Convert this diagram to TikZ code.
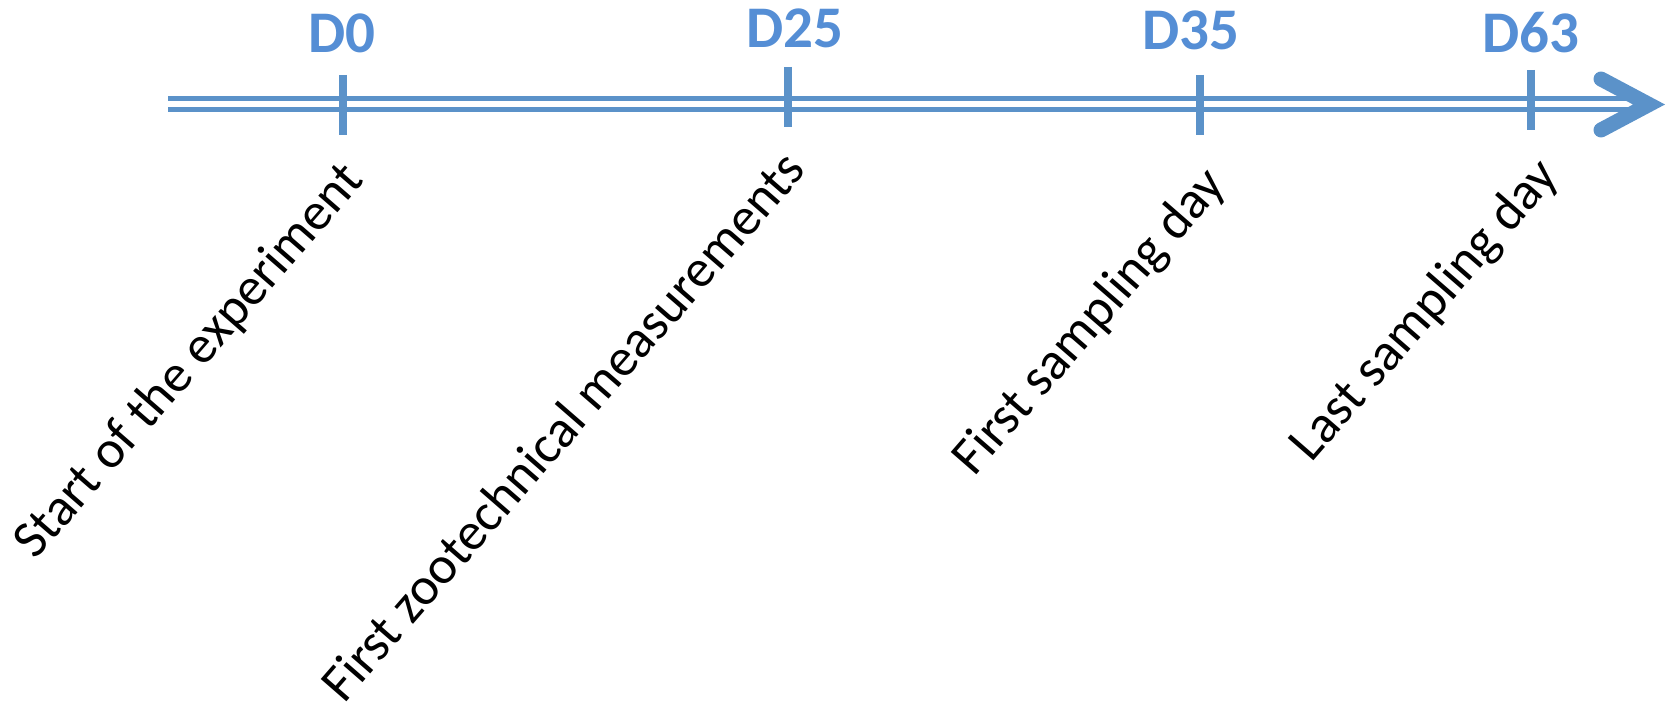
\documentclass[tikz,border=0pt]{standalone}
\usepackage{fontspec}
\setmainfont{Carlito}
\definecolor{axisblue}{RGB}{91,146,201}
\definecolor{dayblue}{RGB}{85,142,213}
\begin{document}
\begin{tikzpicture}[x=1pt,y=1pt,
  shaft/.style={draw=axisblue,line width=5pt},
  tick/.style={draw=axisblue,line width=8pt},
  chev/.style={draw=axisblue,line width=15pt,line cap=round,line join=miter},
  daylab/.style={text=dayblue,font=\fontsize{59}{70}\selectfont\bfseries,anchor=base,inner sep=0pt},
  evlab/.style={font=\fontsize{53}{62}\selectfont,anchor=east,rotate=49,inner sep=0pt}]
\useasboundingbox (0,0) rectangle (1671,-711);
% axis
\coordinate (s1) at (168,-99);
\coordinate (e1) at (1645,-99);
\coordinate (s2) at (168,-110);
\coordinate (e2) at (1645,-110);
\draw[shaft] (s1) -- (e1);
\draw[shaft] (s2) -- (e2);
\coordinate (ha) at (1601,-79);
\coordinate (tip) at (1649,-104.5);
\coordinate (hb) at (1601,-130);
\draw[chev] (ha) -- (tip) -- (hb);
% ticks
\coordinate (t0a) at (342.5,-75);  \coordinate (t0b) at (342.5,-135);
\coordinate (t1a) at (788,-67);    \coordinate (t1b) at (788,-127);
\coordinate (t2a) at (1200,-75);   \coordinate (t2b) at (1200,-135);
\coordinate (t3a) at (1531,-70);   \coordinate (t3b) at (1531,-130);
\draw[tick] (t0a) -- (t0b);
\draw[tick] (t1a) -- (t1b);
\draw[tick] (t2a) -- (t2b);
\draw[tick] (t3a) -- (t3b);
% day labels
\node[daylab] (d0) at (342,-53) {D0};
\node[daylab] (d25) at (795,-48) {D25};
\node[daylab] (d35) at (1191,-50) {D35};
\node[daylab] (d63) at (1531,-53) {D63};
% event labels
\node[evlab] (ev0) at (355,-172) {Start of the experiment};
\node[evlab] (ev1) at (794,-159) {First zootechnical measurements};
\node[evlab] (ev2) at (1217,-177) {First sampling day};
\node[evlab] (ev3) at (1550,-168) {Last sampling day};
\end{tikzpicture}
\end{document}
